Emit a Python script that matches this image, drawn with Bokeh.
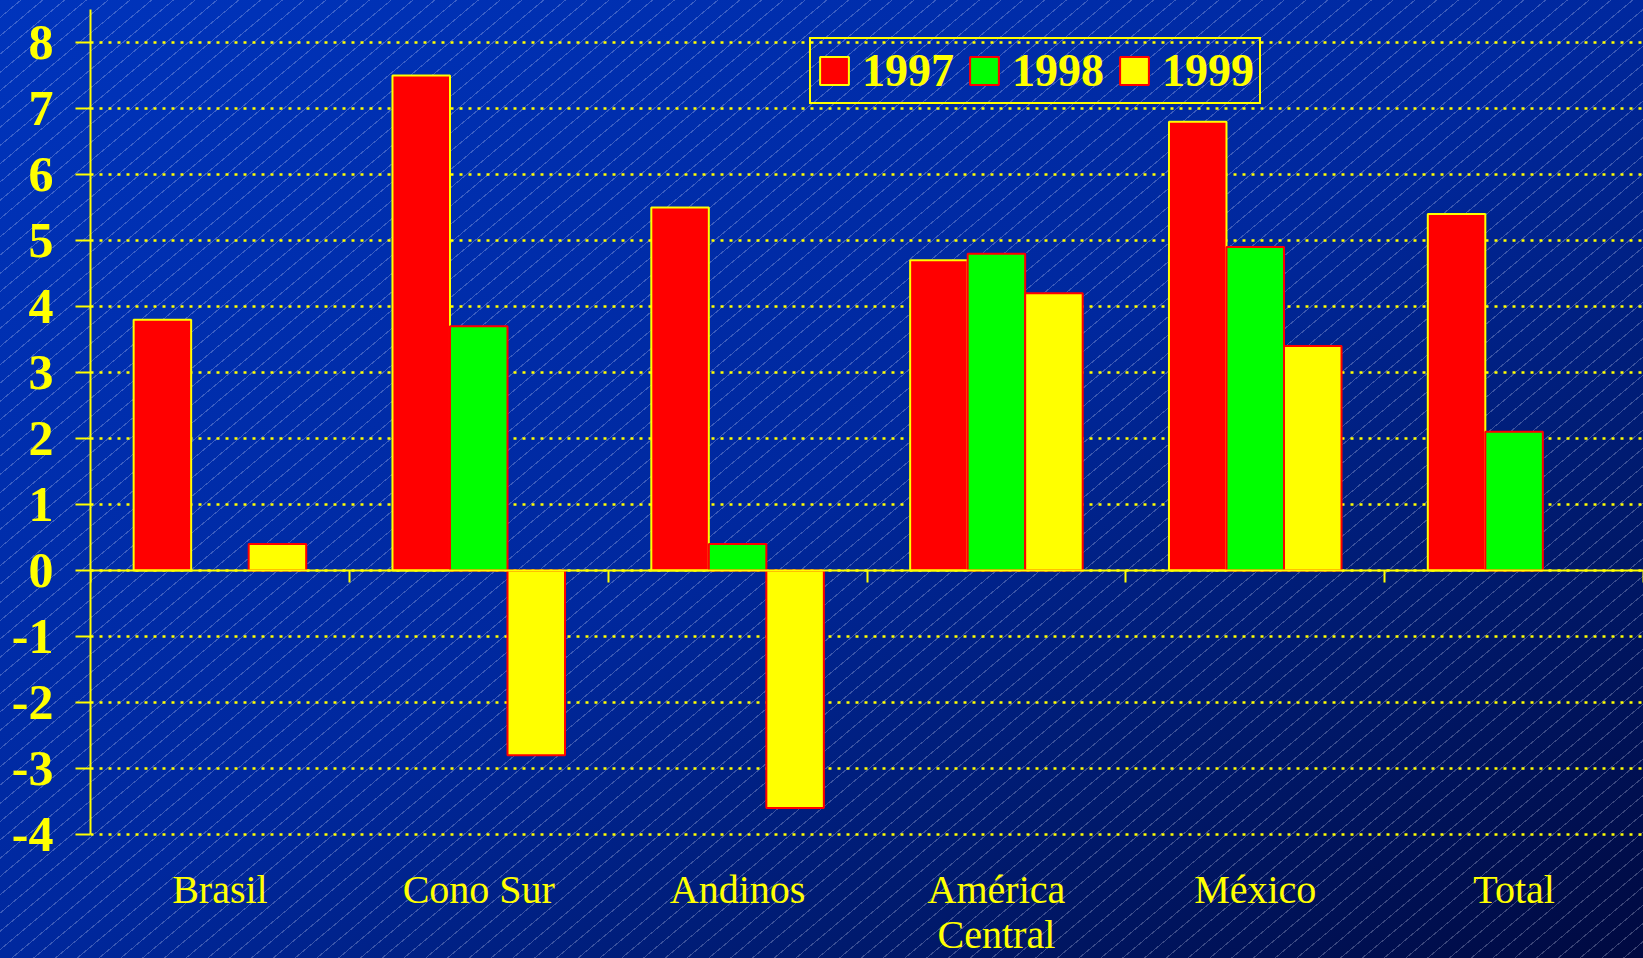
import math
import numpy as np
from bokeh.plotting import figure
from bokeh.models import Range1d, FixedTicker, LinearAxis, Legend, LegendItem, Grid
from bokeh.embed import file_html
from bokeh.resources import INLINE

# ---- data ----
categories = ["Brasil", "Cono Sur", "Andinos", "América Central", "México", "Total"]
category_labels = ["Brasil", "Cono Sur", "Andinos", "América\nCentral", "México", "Total"]
years = ["1997", "1998", "1999"]
v1997 = [3.8, 7.5, 5.5, 4.7, 6.8, 5.4]
v1998 = [math.nan, 3.7, 0.4, 4.8, 4.9, 2.1]
v1999 = [0.4, -2.8, -3.6, 4.2, 3.4, math.nan]
y_ticks = [-4, -3, -2, -1, 0, 1, 2, 3, 4, 5, 6, 7, 8]
y_min, y_max = -4, 8.5

series = [v1997, v1998, v1999]
fills = ["#ff0000", "#00ff00", "#ffff00"]
outlines = ["#ffff00", "#ff0000", "#ff0000"]
YEL = "#ffff00"

n = len(categories)
bar_w = 2.0 / 9.0
offsets = [-bar_w, 0.0, bar_w]

# frame runs to the bottom of the canvas; the value axis stops at y_min
p = figure(width=1643, height=958, output_backend="svg", toolbar_location=None,
           x_range=Range1d(0, n), y_range=Range1d(-5.88, y_max),
           min_border_left=90, min_border_right=0, min_border_top=9, min_border_bottom=0,
           background_fill_color=None, border_fill_color=None, outline_line_color=None,
           x_axis_type=None, y_axis_type=None)

p.add_layout(Grid(dimension=1, ticker=FixedTicker(ticks=y_ticks),
                  grid_line_color=YEL, grid_line_dash="3 6", grid_line_width=2.5))

centers = np.arange(n) + 0.5
renderers = []
for vals, off, fc, lc in zip(series, offsets, fills, outlines):
    r = p.vbar(x=centers + off, top=vals, bottom=0, width=bar_w,
               fill_color=fc, line_color=lc, line_width=2)
    renderers.append(r)

yaxis = LinearAxis(ticker=FixedTicker(ticks=y_ticks), bounds=(y_min, y_max),
                   axis_line_color=YEL, axis_line_width=2,
                   major_tick_line_color=YEL, major_tick_line_width=2,
                   major_tick_out=15, major_tick_in=0, minor_tick_line_color=None,
                   major_label_overrides={t: str(t) for t in y_ticks},
                   major_label_text_color=YEL, major_label_text_font="Liberation Serif",
                   major_label_text_font_style="bold", major_label_text_font_size="50px",
                   major_label_standoff=22)
p.add_layout(yaxis, "left")

edge_ticks = list(range(n + 1))
zaxis = LinearAxis(fixed_location=0, ticker=FixedTicker(ticks=edge_ticks),
                   axis_line_color=YEL, axis_line_width=2,
                   major_tick_line_color=YEL, major_tick_line_width=2,
                   major_tick_out=12, major_tick_in=0, minor_tick_line_color=None,
                   major_label_overrides={t: "" for t in edge_ticks},
                   major_label_text_font_size="1px", major_label_standoff=0)
p.add_layout(zaxis, "below")

label_ticks = [i + 0.5 for i in range(n)]
laxis = LinearAxis(fixed_location=y_min, ticker=FixedTicker(ticks=label_ticks),
                   axis_line_color=None, major_tick_line_color=None, minor_tick_line_color=None,
                   major_tick_out=0, major_tick_in=0,
                   major_label_overrides={t: lab for t, lab in zip(label_ticks, category_labels)},
                   major_label_text_color=YEL, major_label_text_font="Liberation Serif",
                   major_label_text_font_size="40px", major_label_text_line_height=1.0,
                   major_label_standoff=33)
p.add_layout(laxis, "below")

legend = Legend(items=[LegendItem(label=yr, renderers=[r]) for yr, r in zip(years, renderers)],
                orientation="horizontal", location=(719, 854),
                glyph_width=36, glyph_height=35, label_standoff=10, spacing=12,
                padding=5, margin=0,
                border_line_color=YEL, border_line_width=2, border_line_alpha=1,
                background_fill_alpha=0,
                label_text_color=YEL, label_text_font="Liberation Serif",
                label_text_font_style="bold", label_text_font_size="46px")
p.add_layout(legend)

template = """
{% block postamble %}
<style>
html, body { margin: 0; padding: 0; overflow: hidden; }
html { height: 100%; }
body {
  background-color: #00269a;
  background-image:
    repeating-linear-gradient(140deg, rgba(255,255,255,0) 0px, rgba(255,255,255,0) 13px,
                              rgba(225,230,255,0.26) 13px, rgba(225,230,255,0.26) 14px),
    linear-gradient(to bottom right, #0034bc 0%, #00289e 50%, #001a6e 75%, #000940 100%);
  background-attachment: fixed;
}
</style>
{% endblock %}
"""

open("out.html", "w").write(file_html(p, INLINE, template=template))
